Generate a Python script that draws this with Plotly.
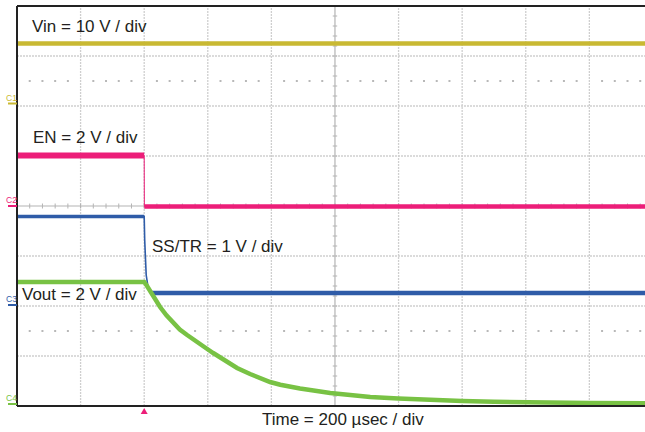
import plotly.graph_objects as go

# ---------------- data (time in µs, values in volts) ----------------
t_vin = [-400, 1575]
v_vin = [12.0, 12.0]

t_en = [-400, 0, 0.5, 1575]
v_en = [2.02, 2.02, -0.02, -0.02]

t_ss = [-400, 0, 1.6, 3.1, 6.3, 12.6, 22, 1575]
v_ss = [1.77, 1.77, 1.30, 0.90, 0.60, 0.34, 0.24, 0.24]

t_vout = [-400, 0, 8, 19, 33, 50, 70, 91, 112, 135, 155, 176, 196, 217, 240, 261,
          292, 333, 365, 396, 428, 459, 490, 522, 555, 585, 648, 711, 799, 900,
          1000, 1100, 1198, 1399, 1575]
v_vout = [4.88, 4.88, 4.74, 4.52, 4.20, 3.88, 3.55, 3.24, 2.98, 2.76, 2.57, 2.40,
          2.22, 2.04, 1.84, 1.66, 1.44, 1.20, 1.03, 0.88, 0.77, 0.68, 0.62, 0.56,
          0.49, 0.44, 0.36, 0.28, 0.22, 0.16, 0.12, 0.09, 0.06, 0.04, 0.03]

volts_per_div = {"C1": 10, "C2": 2, "C3": 1, "C4": 2}
ground_div = {"C1": 2.05, "C2": 0.0, "C3": -1.98, "C4": -3.96}
labels = ["Vin = 10 V / div", "EN = 2 V / div", "SS/TR = 1 V / div", "Vout = 2 V / div"]
time_label = "Time = 200 µsec / div"

# ---------------- styling ----------------
COL = {"C1": "#C9B933", "C2": "#EC1E79", "C3": "#2F5CA8", "C4": "#78C244"}
TXT = "#231F20"
FONT = "Liberation Sans, Arial, sans-serif"
X0, X1 = -400, 1575
US_PER_DIV = 200
W, H = 645, 432
ML, MT, MB = 17, 6, 26
PW, PH = W - ML, H - MT - MB


def to_div(vals, ch):
    return [ground_div[ch] + v / volts_per_div[ch] for v in vals]


def px2paper(px, py):
    return (px - ML) / PW, (H - MB - py) / PH


fig = go.Figure()

# grid
shapes = []
grid_col = "#cfcfcf"
for k in range(1, 10):
    t = X0 + k * US_PER_DIV
    if t == 600:
        shapes.append(dict(type="line", xref="x", yref="y", x0=t, x1=t, y0=-4, y1=4,
                           line=dict(color="#b4b4b4", width=1.2), layer="below"))
    else:
        shapes.append(dict(type="line", xref="x", yref="y", x0=t, x1=t, y0=-4, y1=4,
                           line=dict(color=grid_col, width=1.3, dash="2px,1px"), layer="below"))
for j in range(-3, 4):
    if j == 0:
        shapes.append(dict(type="line", xref="x", yref="y", x0=X0, x1=X1, y0=0, y1=0,
                           line=dict(color="#b4b4b4", width=1.2), layer="below"))
    else:
        shapes.append(dict(type="line", xref="x", yref="y", x0=X0, x1=X1, y0=j, y1=j,
                           line=dict(color=grid_col, width=1.3, dash="2px,1px"), layer="below"))
# ticks on the centre lines
for i in range(-20, 21):
    y = i * 0.2
    shapes.append(dict(type="line", xref="x", yref="y", x0=600 - 7, x1=600 + 7, y0=y, y1=y,
                       line=dict(color="#b4b4b4", width=1), layer="below"))
n = 0
while X0 + n * 40 <= X1:
    t = X0 + n * 40
    shapes.append(dict(type="line", xref="x", yref="y", x0=t, x1=t, y0=-0.05, y1=0.05,
                       line=dict(color="#b4b4b4", width=1), layer="below"))
    n += 1

# dots at +/- 2.5 div rows
dot_t, dot_y = [], []
n = 0
while X0 + n * 40 <= X1:
    t = X0 + n * 40
    if n % 5 != 0:
        for yy in (2.5, -2.5):
            dot_t.append(t)
            dot_y.append(yy)
    n += 1
fig.add_trace(go.Scatter(x=dot_t, y=dot_y, mode="markers",
                         marker=dict(symbol="square", size=2, color="#b8b8b8"),
                         hoverinfo="skip", showlegend=False))

# borders
for s in [dict(x0=0, x1=0, y0=0, y1=1), dict(x0=0, x1=1, y0=1, y1=1), dict(x0=0, x1=1, y0=0, y1=0)]:
    shapes.append(dict(type="line", xref="paper", yref="paper", line=dict(color="#222222", width=2), **s))

# channel markers on the left
for ch in ["C1", "C2", "C3", "C4"]:
    py = 206 - ground_div[ch] * 50
    px0, pyp = px2paper(8, py)
    shapes.append(dict(type="line", xref="paper", yref="paper", x0=px0, x1=0, y0=pyp, y1=pyp,
                       line=dict(color=COL[ch], width=2)))

# trigger marker (small up-pointing triangle under the trigger time)
tx = ML + (0 - X0) / (X1 - X0) * PW
a = px2paper(tx - 3.5, 414)
b = px2paper(tx + 3.5, 414)
c = px2paper(tx, 408)
shapes.append(dict(type="path", xref="paper", yref="paper",
                   path=f"M{a[0]},{a[1]} L{b[0]},{b[1]} L{c[0]},{c[1]} Z",
                   fillcolor=COL["C2"], line=dict(color=COL["C2"], width=0)))
fig.update_layout(shapes=shapes)

# traces
fig.add_trace(go.Scatter(x=t_vin, y=to_div(v_vin, "C1"), mode="lines",
                         line=dict(color=COL["C1"], width=4.5), showlegend=False))

y_en = to_div(v_en, "C2")
fig.add_trace(go.Scatter(x=t_en, y=y_en, mode="lines",
                         line=dict(color=COL["C2"], width=1), showlegend=False))
fig.add_trace(go.Scatter(x=t_en[:2], y=y_en[:2], mode="lines",
                         line=dict(color=COL["C2"], width=6), showlegend=False))
fig.add_trace(go.Scatter(x=t_en[2:], y=y_en[2:], mode="lines",
                         line=dict(color=COL["C2"], width=4.5), showlegend=False))

y_ss = to_div(v_ss, "C3")
fig.add_trace(go.Scatter(x=t_ss, y=y_ss, mode="lines",
                         line=dict(color=COL["C3"], width=1.6), showlegend=False))
fig.add_trace(go.Scatter(x=t_ss[:2], y=y_ss[:2], mode="lines",
                         line=dict(color=COL["C3"], width=3.5), showlegend=False))
fig.add_trace(go.Scatter(x=t_ss[-2:], y=y_ss[-2:], mode="lines",
                         line=dict(color=COL["C3"], width=4.5), showlegend=False))

fig.add_trace(go.Scatter(x=t_vout, y=to_div(v_vout, "C4"), mode="lines",
                         line=dict(color=COL["C4"], width=4.5), showlegend=False))

# annotations
ann = []
for text, (px, py) in zip(labels, [(30, 26), (31, 137), (150, 246), (20, 295)]):
    ax, ay = px2paper(px, py)
    ann.append(dict(text=text, x=ax, y=ay, xref="paper", yref="paper", xanchor="left",
                    yanchor="middle", showarrow=False, font=dict(family=FONT, size=17, color=TXT)))
ax, ay = px2paper(343, 420)
ann.append(dict(text=time_label, x=ax, y=ay, xref="paper", yref="paper", xanchor="center",
                yanchor="middle", showarrow=False, font=dict(family=FONT, size=17, color=TXT)))
for ch in ["C1", "C2", "C3", "C4"]:
    py = 206 - ground_div[ch] * 50 - 6
    ax, ay = px2paper(11.5, py)
    ann.append(dict(text=ch, x=ax, y=ay, xref="paper", yref="paper", xanchor="center",
                    yanchor="middle", showarrow=False, textangle=0,
                    font=dict(family=FONT, size=8.5, color=COL[ch])))

fig.update_layout(
    width=W, height=H,
    margin=dict(l=ML, r=0, t=MT, b=MB, pad=0),
    paper_bgcolor="white", plot_bgcolor="white",
    annotations=ann,
    xaxis=dict(range=[X0, X1], showgrid=False, zeroline=False, showticklabels=False,
               ticks="", fixedrange=True),
    yaxis=dict(range=[-4, 4], showgrid=False, zeroline=False, showticklabels=False,
               ticks="", fixedrange=True),
    hovermode=False,
)

fig.write_html("out.html", config={"displayModeBar": False},
               post_script="document.body.style.margin='0';document.body.style.overflow='hidden';")
